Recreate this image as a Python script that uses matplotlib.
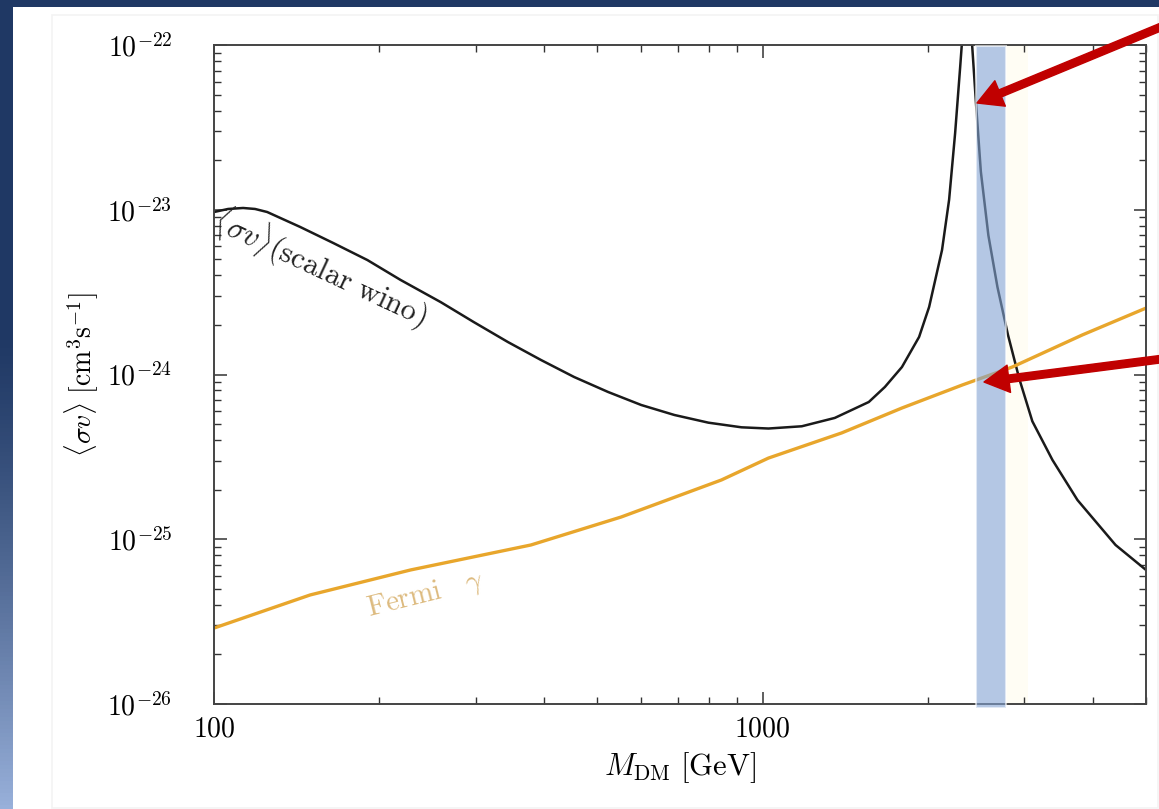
import numpy as np
import matplotlib
matplotlib.use("Agg")
import matplotlib.pyplot as plt
from matplotlib.patches import Rectangle, FancyArrowPatch
from matplotlib.ticker import FixedLocator, LogLocator, FuncFormatter, NullFormatter
import matplotlib.transforms as mtransforms

# scalar wino <sigma v>, branch below the Sommerfeld resonance
wino_mass_low = [100, 106.1, 113, 118.8, 125, 143.6, 165, 190.4, 218.8, 259, 297.6, 343.3,
                 394.5, 453.3, 523, 600.9, 690.5, 796.8, 915.5, 1025, 1179, 1354, 1562,
                 1671, 1795, 1929, 2012, 2124, 2188, 2244, 2292, 2318]
wino_sigma_low = [9.69e-24, 1.011e-23, 1.025e-23, 1.011e-23, 9.69e-24, 7.86e-24, 6.28e-24,
                  4.95e-24, 3.75e-24, 2.75e-24, 2.08e-24, 1.575e-24, 1.225e-24, 9.66e-25,
                  7.83e-25, 6.53e-25, 5.68e-25, 5.10e-25, 4.78e-25, 4.70e-25, 4.85e-25,
                  5.45e-25, 6.81e-25, 8.40e-25, 1.11e-24, 1.69e-24, 2.57e-24, 5.70e-24,
                  1.15e-23, 2.92e-23, 7.35e-23, 1.23e-22]
# branch above the resonance
wino_mass_high = [2410, 2452, 2500, 2580, 2680, 2800, 2938, 3103, 3376, 3750, 4400, 5000]
wino_sigma_high = [1.0e-22, 4.2e-23, 1.7e-23, 7.0e-24, 3.4e-24, 1.75e-24, 9.4e-25,
                   5.2e-25, 3.03e-25, 1.73e-25, 9.23e-26, 6.51e-26]

# Fermi gamma-line limit
fermi_mass = [100, 149.7, 228.2, 378.2, 552.5, 841.4, 1025, 1394, 1795, 2311, 2852, 3830, 5000]
fermi_sigma = [2.89e-26, 4.59e-26, 6.51e-26, 9.23e-26, 1.365e-25, 2.29e-25, 3.11e-25,
               4.42e-25, 6.26e-25, 8.63e-25, 1.11e-24, 1.74e-24, 2.53e-24]

band_mass = [2450, 2780]     # highlighted mass window
pale_band_mass = [2780, 3050]

x_ticks = [100, 1000]
y_ticks = [1e-26, 1e-25, 1e-24, 1e-23, 1e-22]

plt.rcParams['mathtext.fontset'] = 'cm'
plt.rcParams['font.family'] = 'serif'

W, H = 1159, 809
fig = plt.figure(figsize=(W/100, H/100), dpi=100, facecolor='#1F3864')

# white slide panel and left gradient strip
fig.patches.append(Rectangle((13/W, 0), 1, 1-7/H, transform=fig.transFigure,
                             facecolor='white', edgecolor='none', zorder=-2))
fig.patches.append(Rectangle((52/W, 0.001), 1-52/W-0.001, 1-15/H-0.001, transform=fig.transFigure,
                             facecolor='none', edgecolor='#F3F3F3', lw=1.2, zorder=-1))
axg = fig.add_axes([0, 0, 13/W, 1-7/H])
t = np.linspace(0, 1, 200)[:, None]
ramp = np.clip((t-0.4)/0.6, 0, 1)**1.3
top, bot = np.array([31, 56, 100])/255, np.array([152, 176, 218])/255
grad = (top[None, None, :]*(1-ramp[..., None]) + bot[None, None, :]*ramp[..., None])
axg.imshow(grad, aspect='auto', extent=[0, 1, 0, 1], origin='upper')
axg.axis('off')

ax = fig.add_axes([214/W, 1-704/H, (1146-214)/W, (704-45)/H])
ax.set_xscale('log')
ax.set_yscale('log')

ax.plot(wino_mass_low, wino_sigma_low, color='#1a1a1a', lw=1.8)
ax.plot(wino_mass_high, wino_sigma_high, color='#1a1a1a', lw=1.8)
ax.plot(fermi_mass, fermi_sigma, color='#E8A62C', lw=2.4)

ax.set_xlim(100, 5000)
ax.set_ylim(1e-26, 1e-22)

trans = mtransforms.blended_transform_factory(ax.transData, ax.transAxes)
ax.add_patch(Rectangle((pale_band_mass[0], 0), pale_band_mass[1]-pale_band_mass[0], 1,
                       transform=trans, facecolor='#FFFDF4', edgecolor='none', zorder=0.5))
ax.add_patch(Rectangle((band_mass[0], -0.006), band_mass[1]-band_mass[0], 1.005,
                       transform=trans, facecolor=(0.51, 0.64, 0.823), alpha=0.6,
                       edgecolor='white', lw=1.5, zorder=5, clip_on=False))

ax.text(157, 4.5e-24, r'$\langle\sigma v\rangle(\mathrm{scalar\ wino})$', fontsize=22,
        rotation=-25, ha='center', va='center', rotation_mode='anchor', color='#222222')
ax.text(243, 4.6e-26, r'$\mathrm{Fermi}\ \ \ \gamma$', fontsize=21, rotation=14,
        ha='center', va='center', rotation_mode='anchor', color='#DDBB80')

ax.xaxis.set_major_locator(FixedLocator(x_ticks))
ax.xaxis.set_major_formatter(FuncFormatter(lambda v, p: r'$%d$' % round(v)))
ax.xaxis.set_minor_formatter(NullFormatter())
ax.yaxis.set_major_locator(FixedLocator(y_ticks))
ax.yaxis.set_minor_locator(LogLocator(base=10, subs=np.arange(2, 10), numticks=20))
ax.yaxis.set_major_formatter(FuncFormatter(lambda v, p: r'$10^{%d}$' % round(np.log10(v))))
ax.yaxis.set_minor_formatter(NullFormatter())
ax.tick_params(which='both', direction='in', top=True, right=True, color='#333333')
ax.tick_params(which='major', length=9, width=1.1, labelsize=20)
ax.tick_params(which='minor', length=5, width=1.0)
ax.tick_params(axis='y', which='major', pad=30)
ax.tick_params(axis='x', which='major', pad=8)
for s in ax.spines.values():
  s.set_color('#444444')
  s.set_linewidth(1.4)

ax.set_xlabel(r'$M_{\mathrm{DM}}\ [\mathrm{GeV}]$', fontsize=22, labelpad=6)
ax.set_ylabel(r'$\langle\sigma v\rangle\ [\mathrm{cm}^3\mathrm{s}^{-1}]$', fontsize=20)
ax.yaxis.set_label_coords(-0.121, 0.5)

# red pointer arrows on the slide
def px(x, y):
  return (x/W, 1-y/H)

for tail, tip in [((1185, 17), (977, 103)), ((1185, 356), (984, 382))]:
  fig.add_artist(FancyArrowPatch(px(*tail), px(*tip), transform=fig.transFigure,
                                 arrowstyle='simple,head_length=1.0,head_width=1.1,tail_width=0.3',
                                 mutation_scale=18, color='#C00000', shrinkA=0, shrinkB=0,
                                 zorder=10))

fig.savefig('out.png', dpi=100, facecolor=fig.get_facecolor())
